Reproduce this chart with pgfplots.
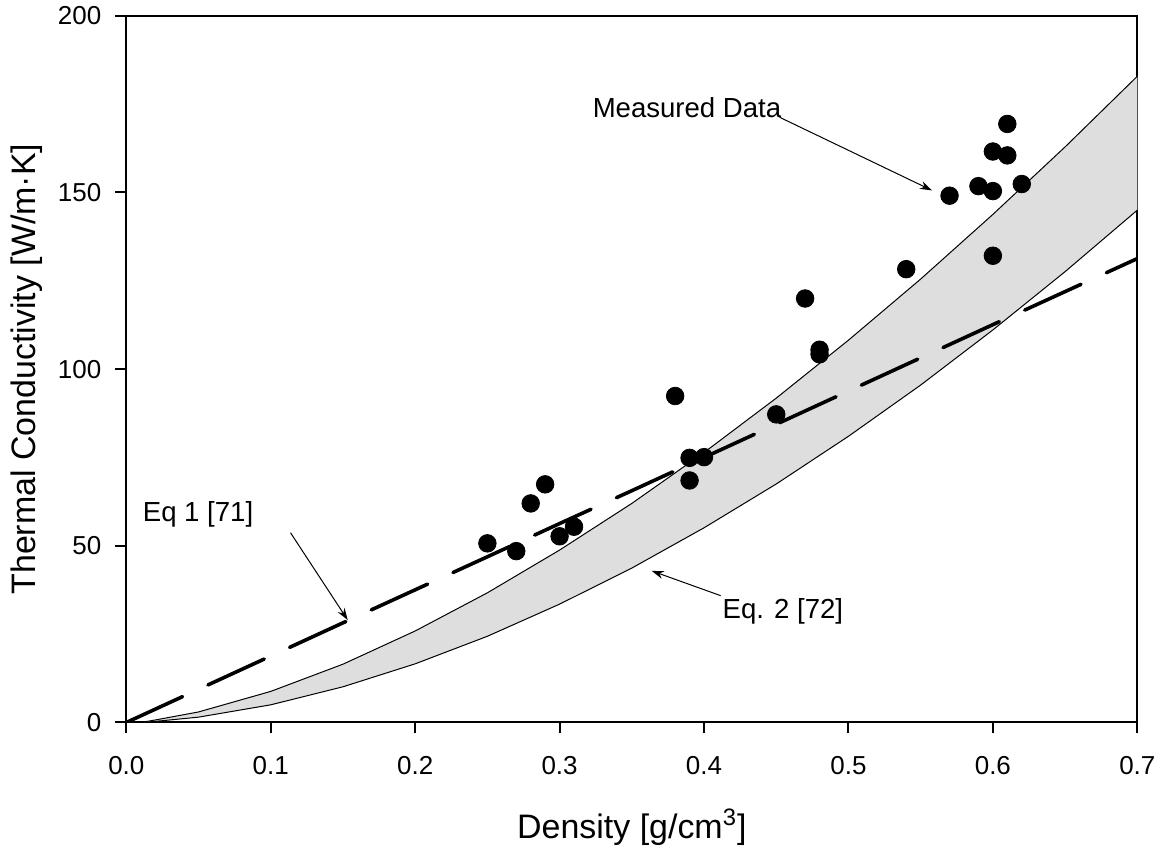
\documentclass[border=0pt]{standalone}
\usepackage{fontspec}
\setmainfont{Liberation Sans}
\usepackage{pgfplots}
\pgfplotsset{compat=1.18}
\usepgfplotslibrary{fillbetween}
\usetikzlibrary{arrows.meta}
\begin{document}
\begin{tikzpicture}
\begin{axis}[
  scale only axis, width=506.25pt, height=353.85pt,
  xmin=0, xmax=0.7, ymin=0, ymax=200,
  xtick={0,0.1,0.2,0.3,0.4,0.5,0.6,0.7},
  ytick={0,50,100,150,200},
  tick align=outside, xtick pos=bottom, ytick pos=left,
  major tick length=5.5pt,
  axis line style={line width=1pt},
  tick style={line width=1pt, black},
  /pgf/number format/assume math mode=true,
  ticklabel style={font=\fontsize{13}{15}\selectfont},
  xticklabel style={/pgf/number format/.cd,fixed,fixed zerofill,precision=1,/tikz/.cd,yshift=-7.7pt},
  yticklabel style={xshift=-3.5pt},
  xlabel={Density [g/cm\textsuperscript{3}]},
  ylabel={Thermal Conductivity [W/m·K]},
  every axis x label/.style={at={(axis description cs:0.5,-0.1636)}, anchor=base, font=\fontsize{17}{20}\selectfont},
  every axis y label/.style={at={(axis description cs:-0.0986,0.5)}, rotate=90, anchor=center, font=\fontsize{17}{20}\selectfont},
]
% Eq. 2 band
\addplot[name path=up, black, line width=0.5pt] coordinates {
(0.01,0) (0.02,0.71) (0.05,2.98) (0.1,8.8) (0.15,16.5) (0.2,25.9) (0.25,36.7) (0.3,48.8)
(0.35,62.0) (0.4,76.4) (0.45,91.8) (0.5,108.2) (0.55,125.5) (0.6,143.8) (0.65,162.9) (0.7,182.9)};
\addplot[name path=lo, black, line width=0.5pt] coordinates {
(0.01,0) (0.02,0.31) (0.05,1.51) (0.1,5.0) (0.15,10.1) (0.2,16.6) (0.25,24.4) (0.3,33.5)
(0.35,43.7) (0.4,55.1) (0.45,67.5) (0.5,81.0) (0.55,95.5) (0.6,111.1) (0.65,127.6) (0.7,145.0)};
\addplot[fill=black!13, draw=none] fill between[of=up and lo];
% Eq. 1
\addplot[black, line width=1.8pt, line cap=round, dash pattern=on 31pt off 14pt] coordinates {
(0,0) (0.05,9.4) (0.15,28.2) (0.25,46.9) (0.3,56.3) (0.35,65.6) (0.45,84.4) (0.55,103.2) (0.6,112.6) (0.7,131.3)};
% Measured data
\addplot[only marks, mark=*, mark size=4.4pt, mark options={fill=black, draw=black}] coordinates {
(0.25,50.7) (0.27,48.5) (0.28,62.0) (0.29,67.4) (0.30,52.7) (0.31,55.4)
(0.38,92.4) (0.39,74.9) (0.40,75.1) (0.39,68.5) (0.45,87.2) (0.47,120.0)
(0.48,105.5) (0.48,104.2) (0.54,128.3) (0.57,149.1) (0.59,151.8) (0.60,161.6)
(0.60,150.4) (0.60,132.1) (0.61,169.4) (0.61,160.5) (0.62,152.4)};
% annotations
\node[anchor=base west, inner sep=0pt, font=\fontsize{13.8}{16}\selectfont] at (axis cs:0.3227,171.3) {Measured Data};
\draw[line width=0.5pt, -{Stealth[length=6pt,width=4pt]}] (axis cs:0.4523,171.3) -- (axis cs:0.5578,150.6);
\node[anchor=base west, inner sep=0pt, font=\fontsize{13.8}{16}\selectfont] at (axis cs:0.0112,56.8) {Eq 1 [71]};
\draw[line width=0.5pt, -{Stealth[length=6pt,width=4pt]}] (axis cs:0.1137,53.7) -- (axis cs:0.1533,29.0);
\node[anchor=base west, inner sep=0pt, font=\fontsize{13.8}{16}\selectfont] at (axis cs:0.4126,29.3) {Eq. 2 [72]};
\draw[line width=0.5pt, -{Stealth[length=6pt,width=4pt]}] (axis cs:0.4115,35.9) -- (axis cs:0.3638,42.9);
\end{axis}
\path (-63.25pt,-63pt) rectangle (517.75pt,360.5pt);
\end{tikzpicture}
\end{document}
